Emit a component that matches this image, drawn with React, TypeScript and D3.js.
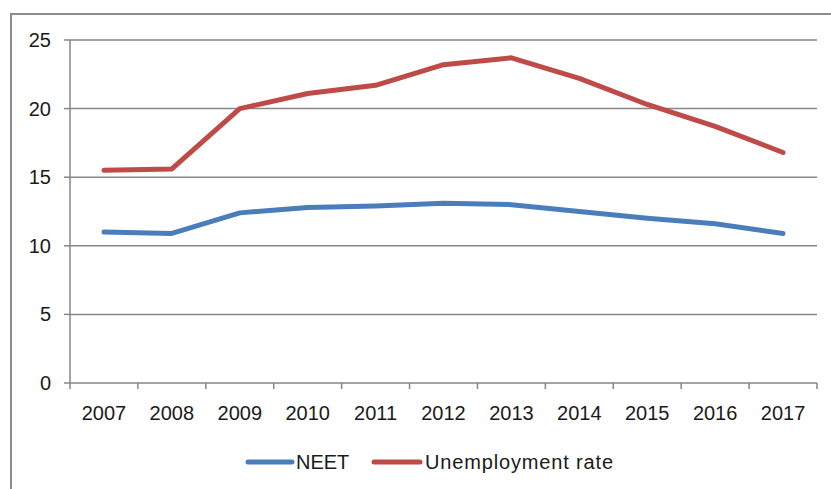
import React from "react";
import * as d3 from "d3";

const years = ["2007","2008","2009","2010","2011","2012","2013","2014","2015","2016","2017"];
const neet = [11.0, 10.9, 12.4, 12.8, 12.9, 13.1, 13.0, 12.5, 12.0, 11.6, 10.9];
const unemployment = [15.5, 15.6, 20.0, 21.1, 21.7, 23.2, 23.7, 22.2, 20.3, 18.7, 16.8];
const yTicks = [0, 5, 10, 15, 20, 25];
const seriesNames = ["NEET", "Unemployment rate"];
const colors = ["#4A7EBB", "#BE4B48"];

const W = 831, H = 489;
const left = 70, right = 817, top = 40, bottom = 383;
const font = "'Liberation Sans', Arial, sans-serif";

export default function App() {
  const x = d3.scaleBand().domain(years).range([left, right]);
  const y = d3.scaleLinear().domain([0, 25]).range([bottom, top]);
  const line = d3.line<number>()
    .x((_, i) => (x(years[i]) as number) + x.bandwidth() / 2)
    .y(d => y(d));
  const grid = "#868686";
  const series = [neet, unemployment];
  return (
    <svg width={W} height={H} style={{ position: "absolute", left: 0, top: 0, background: "#fff" }}>
      <rect x={11} y={14} width={W} height={H} fill="#fff" stroke="#8c8c8c" strokeWidth={2} />
      {yTicks.map(t => (
        <g key={t}>
          {t > 0 && <line x1={left} x2={right} y1={y(t)} y2={y(t)} stroke={grid} strokeWidth={1.5} />}
          <line x1={left - 6} x2={left} y1={y(t)} y2={y(t)} stroke={grid} strokeWidth={1.5} />
          <text x={51} y={y(t)} dy="0.35em" textAnchor="end" fontFamily={font} fontSize={20} fill="#1a1a1a">{t}</text>
        </g>
      ))}
      <line x1={left} x2={left} y1={top} y2={bottom} stroke={grid} strokeWidth={1.5} />
      <line x1={left} x2={right} y1={bottom} y2={bottom} stroke={grid} strokeWidth={1.5} />
      {years.map((yr, i) => (
        <g key={yr}>
          <line x1={x(yr)} x2={x(yr)} y1={bottom} y2={bottom + 6} stroke={grid} strokeWidth={1.5} />
          {i === years.length - 1 && <line x1={right} x2={right} y1={bottom} y2={bottom + 6} stroke={grid} strokeWidth={1.5} />}
          <text x={(x(yr) as number) + x.bandwidth() / 2} y={413} dy="0.35em" textAnchor="middle" fontFamily={font} fontSize={20} fill="#1a1a1a">{yr}</text>
        </g>
      ))}
      {series.map((s, k) => (
        <path key={k} d={line(s) as string} fill="none" stroke={colors[k]} strokeWidth={5} strokeLinecap="round" strokeLinejoin="round" />
      ))}
      <line x1={248} x2={292} y1={462} y2={462} stroke={colors[0]} strokeWidth={5} strokeLinecap="round" />
      <text x={296} y={462} dy="0.35em" fontFamily={font} fontSize={20} fill="#1a1a1a">{seriesNames[0]}</text>
      <line x1={374} x2={420} y1={462} y2={462} stroke={colors[1]} strokeWidth={5} strokeLinecap="round" />
      <text x={425} y={462} dy="0.35em" fontFamily={font} fontSize={20} fill="#1a1a1a" textLength={188}>{seriesNames[1]}</text>
    </svg>
  );
}
